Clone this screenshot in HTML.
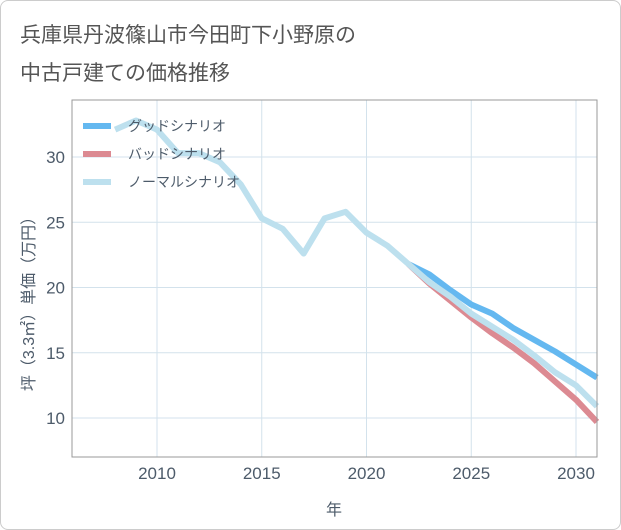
<!DOCTYPE html>
<html><head><meta charset="utf-8"><style>
body{margin:0;background:#fff;}
#card{position:absolute;left:0;top:0;width:619px;height:528px;border:1px solid #ccc;border-radius:8px;background:#fff;}
.t{font-family:"Liberation Sans","Noto Sans CJK JP",sans-serif;}
</style></head><body>
<div id="card">
<svg width="621" height="530" style="position:absolute;left:-1px;top:-1px">
<text class="t" x="20" y="42" font-size="21" fill="#555">兵庫県丹波篠山市今田町下小野原の</text>
<text class="t" x="20" y="80" font-size="21" fill="#555">中古戸建ての価格推移</text>
<g id="grid"></g><g id="lines"></g><g id="legend"></g>
<rect x="72" y="100" width="525" height="357" fill="none" stroke="#999" stroke-width="1"/>
<text class="t" x="334" y="515" font-size="16" fill="#4d5b6a" text-anchor="middle">年</text>
<text class="t" font-size="16" fill="#4d5b6a" text-anchor="middle" transform="translate(34,300) rotate(-90)">坪（3.3㎡）単価（万円）</text>
</svg></div>
<script>
const years=[2008,2009,2010,2011,2012,2013,2014,2015,2016,2017,2018,2019,2020,2021,2022,2023,2024,2025,2026,2027,2028,2029,2030,2031];
const normal=[32.1,32.8,32.1,30.3,30.3,29.6,27.9,25.3,24.5,22.6,25.3,25.8,24.2,23.2,21.8,20.4,19.3,18.0,17.0,16.0,14.8,13.5,12.5,10.9];
const goodYears=[2022,2023,2024,2025,2026,2027,2028,2029,2030,2031];
const good=[21.8,21.0,19.8,18.7,18.0,16.9,16.0,15.1,14.1,13.1];
const bad=[21.8,20.3,19.0,17.7,16.5,15.4,14.2,12.8,11.4,9.7];
const xTicks=[2010,2015,2020,2025,2030];
const yTicks=[10,15,20,25,30];
const X=y=>157+(y-2010)*20.95, Y=v=>418-(v-10)*13.05;
const NS="http://www.w3.org/2000/svg";
const mk=(p,t,a)=>{const e=document.createElementNS(NS,t);for(const k in a)e.setAttribute(k,a[k]);document.getElementById(p).appendChild(e);return e;};
xTicks.forEach(t=>{const l=mk('grid','line',{x1:X(t),x2:X(t),y1:100,y2:457,stroke:'#d3e2ec'});


const s=mk('grid','text',{x:X(t),y:479,'font-size':17,fill:'#4d5b6a','text-anchor':'middle',class:'t'});s.textContent=t;

});
yTicks.forEach(t=>{const l=mk('grid','line',{x1:72,x2:597,y1:Y(t),y2:Y(t),stroke:'#d3e2ec'});


const s=mk('grid','text',{x:65,y:Y(t)+6,'font-size':17,fill:'#4d5b6a','text-anchor':'end',class:'t'});s.textContent=t;

});
function line(xs,vs,c,n){const p=mk('lines','polyline',{points:xs.map((y,i)=>X(y)+','+Y(vs[i])).join(' '),fill:'none',stroke:c,'stroke-width':6,'stroke-linejoin':'round'});

}
line(goodYears,good,'#64b8f0','good-scenario-line');
line(goodYears,bad,'#dc8a92','bad-scenario-line');
line(years,normal,'#bde0ee','normal-scenario-line');
[['グッドシナリオ','#64b8f0'],['バッドシナリオ','#dc8a92'],['ノーマルシナリオ','#bde0ee']].forEach((e,i)=>{const y=126+i*28;
const r=mk('legend','line',{x1:83,x2:111,y1:y,y2:y,stroke:e[1],'stroke-width':6});


const s=mk('legend','text',{x:128,y:y+5,'font-size':14,fill:'#4d5b6a',class:'t'});s.textContent=e[0];

});
</script></body></html>
